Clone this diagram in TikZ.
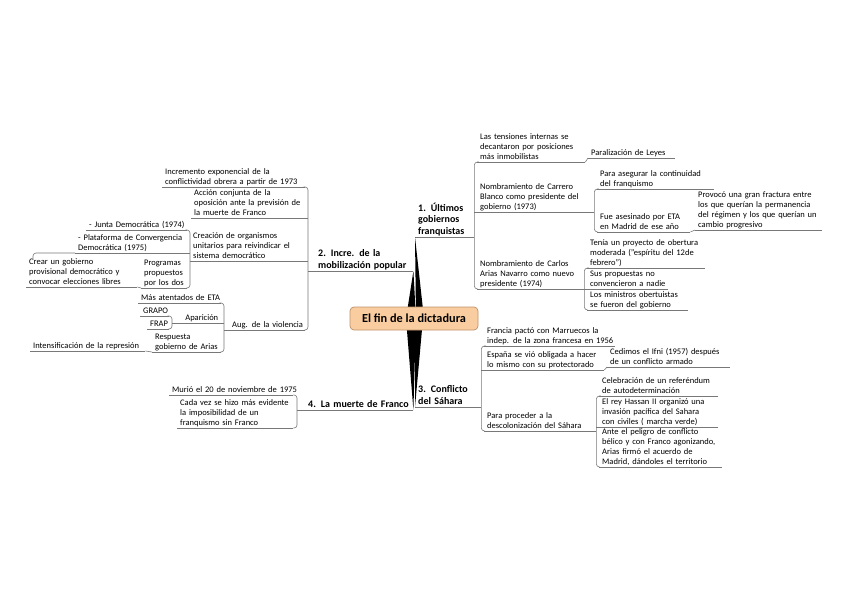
\documentclass[tikz,border=0pt]{standalone}
\usepackage{fontspec}
\setmainfont{Carlito}
\usetikzlibrary{calc}
\newcommand\tpfont{\fontsize{8.5}{10}\selectfont}
\newcommand\mtfont{\fontsize{10}{11.5}\selectfont\bfseries}
\newcommand\ctfont{\fontsize{12.3}{14}\selectfont\bfseries}
\newcommand\tx[1]{\begin{tabular}{@{}l@{}}#1\end{tabular}}
\definecolor{peach}{RGB}{250,205,160}
\definecolor{peachline}{RGB}{190,145,105}
\definecolor{lin}{RGB}{120,120,120}
\tikzset{
  tp/.style={anchor=south west, inner xsep=3pt, inner ysep=-0.7pt, align=left, font=\tpfont, text=black},
  mt/.style={tp, font=\mtfont},
  ul/.style={draw=lin, line width=0.6pt},
  conn/.style={draw=lin, line width=0.6pt, rounded corners=3pt},
  wedge/.style={fill=black, draw=none},
  central/.style={draw=peachline, fill=peach, rounded corners=4pt, line width=0.7pt, minimum width=128pt, minimum height=23pt, inner sep=0pt, font=\ctfont}
}
\begin{document}
\begin{tikzpicture}[x=1pt,y=-1pt]
\useasboundingbox (0,0) rectangle (848,599);

% ---- right upper branch
\node[mt, text width=53pt] (T1) at (415,237) {\tx{1. Últimos\\gobiernos\\franquistas}};
\node[tp, text width=102pt] (A1) at (477,162) {\tx{Las tensiones internas se\\decantaron por posiciones\\más inmobilistas}};
\node[tp, text width=81pt] (A1a) at (588,158) {\tx{Paralización de Leyes}};
\node[tp, text width=111pt] (A2) at (477,212) {\tx{Nombramiento de Carrero\\Blanco como presidente del\\gobierno (1973)}};
\node[tp, text width=111pt] (A2a) at (597,189) {\tx{Para asegurar la continuidad\\del franquismo}};
\node[tp, text width=87pt] (A2b) at (597,232) {\tx{Fue asesinado por ETA\\en Madrid de ese año}};
\node[tp, text width=121pt] (A2b1) at (695,230) {\tx{Provocó una gran fractura entre\\los que querían la permanencia\\del régimen y los que querían un\\cambio progresivo}};
\node[tp, text width=101pt] (A3) at (477,289) {\tx{Nombramiento de Carlos\\Arias Navarro como nuevo\\presidente (1974)}};
\node[tp, text width=112pt] (B1) at (587,268) {\tx{Tenía un proyecto de obertura\\moderada ("espíritu del 12de\\febrero")}};
\node[tp, text width=75pt] (B2) at (587,289) {\tx{Sus propuestas no\\convencieron a nadie}};
\node[tp, text width=95pt] (B3) at (587,310) {\tx{Los ministros obertuistas\\se fueron del gobierno}};

% ---- right lower branch
\node[mt, text width=60pt] (T3) at (415,407) {\tx{3. Conflicto\\del Sáhara}};
\node[tp, text width=125pt] (C1) at (484,346) {\tx{Francia pactó con Marruecos la\\indep. de la zona francesa en 1956}};
\node[tp, text width=114pt] (C2) at (484,370) {\tx{España se vió obligada a hacer\\lo mismo con su protectorado}};
\node[tp, text width=117pt] (C2a) at (607,367) {\tx{Cedimos el Ifni (1957) después\\de un conflicto armado}};
\node[tp, text width=106pt] (C3) at (484,431) {\tx{Para proceder a la\\descolonización del Sáhara}};
\node[tp, text width=113pt] (C3a) at (599,396) {\tx{Celebración de un referéndum\\de autodeterminación}};
\node[tp, text width=113pt] (C3b) at (599,427) {\tx{El rey Hassan II organizó una\\invasión pacífica del Sahara\\con civiles ( marcha verde)}};
\node[tp, text width=117pt] (C3c) at (599,467) {\tx{Ante el peligro de conflicto\\bélico y con Franco agonizando,\\Arias firmó el acuerdo de\\Madrid, dándoles el territorio}};

% ---- left upper branch
\node[mt, text width=99pt] (T2) at (308,271) {\tx{\hspace*{7pt}2. Incre. de la\\\hspace*{7pt}mobilización popular}};
\node[tp, text width=137pt] (D1) at (162,187) {\tx{Incremento exponencial de la\\conflictividad obrera a partir de 1973}};
\node[tp, text width=108pt] (D2) at (191,218) {\tx{Acción conjunta de la\\oposición ante la previsión de\\la muerte de Franco}};
\node[tp, text width=109pt] (D3) at (190,261) {\tx{Creación de organismos\\unitarios para reivindicar el\\sistema democrático}};
\node[tp, text width=95pt] (D3a) at (86,230) {\tx{- Junta Democrática (1974)}};
\node[tp, text width=106pt] (D3b) at (75,253) {\tx{- Plataforma de Convergencia\\Democrática (1975)}};
\node[tp, text width=40pt] (D3c) at (141,288) {\tx{Programas\\propuestos\\por los dos}};
\node[tp, text width=105pt] (D3c1) at (26,287) {\tx{Crear un gobierno\\provisional democrático y\\convocar elecciones libres}};
\node[tp, text width=75pt] (D4) at (224,330) {\tx{\hspace*{5pt}Aug. de la violencia}};
\node[tp, text width=77pt] (E1) at (138,303) {\tx{Más atentados de ETA}};
\node[tp, text width=43pt, align=right] (E2) at (172,323) {\tx{Aparición}};
\node[tp, text width=23pt] (G1) at (140,316) {\tx{GRAPO}};
\node[tp, text width=16pt] (G2) at (147,329) {\tx{FRAP}};
\node[tp, text width=63pt] (E3) at (152,352) {\tx{Respuesta\\gobierno de Arias}};
\node[tp, text width=109pt] (E3a) at (30,351) {\tx{Intensificación de la represión}};

% ---- left lower branch
\node[mt, text width=110pt] (T4) at (297,410) {\tx{\hspace*{8pt}4. La muerte de Franco}};
\node[tp, text width=118pt] (F1) at (169,395) {\tx{Murió el 20 de noviembre de 1975}};
\node[tp, text width=110pt] (F2) at (177,428) {\tx{Cada vez se hizo más evidente\\la imposibilidad de un\\franquismo sin Franco}};

% ---- underlines
\foreach \n in {T1,A1,A1a,A2,A2a,A2b,A2b1,A3,B1,B2,B3,T3,C1,C2,C2a,C3,C3a,C3b,C3c,T2,D1,D2,D3,D3a,D3b,D3c,D3c1,D4,E1,E2,G1,G2,E3,E3a,T4,F1,F2}
  \draw[ul] (\n.south west) -- (\n.south east);

% ---- connectors
\draw[conn] (A1.south west) -| (T1.south east) |- (A3.south west);
\draw[conn] (A2.south west) -- (A2.south west -| T1.south east);
\draw[conn] (A1.south east) -- (A1a.south west);
\draw[conn] (A2a.south west) -| (A2.south east) |- (A2b.south west);
\draw[conn] (A2b.south east) -- (A2b1.south west);
\draw[conn] (B1.south west) -| (A3.south east) |- (B3.south west);
\draw[conn] (B2.south west) -- (A3.south east);

\draw[conn] (C1.south west) -| (T3.south east) |- (C3.south west);
\draw[conn] (C2.south west) -- (C2.south west -| T3.south east);
\draw[conn] (C2.south east) -- (C2a.south west);
\draw[conn] (C3a.south west) -| (C3.south east) |- (C3c.south west);
\draw[conn] (C3b.south west) -- (C3b.south west -| C3.south east);

\draw[conn] (D1.south east) -| (T2.south west) |- (D4.south east);
\draw[conn] (D2.south east) -- (D2.south east -| T2.south west);
\draw[conn] (D3.south east) -- (D3.south east -| T2.south west);
\draw[conn] (D3a.south east) -| (D3.south west) |- (D3c.south east);
\draw[conn] (D3b.south east) -- (D3b.south east -| D3.south west);
\draw[conn] (D3b.south west) -- ++(-42,0) -- ++(0,7);
\draw[conn] (D3c1.south east) -- (D3c.south west);
\draw[conn] (E1.south east) -| (D4.south west) |- (E3.south east);
\draw[conn] (E2.south east) -- (E2.south east -| D4.south west);
\draw[conn] (G1.south east) -| (E2.south west) |- (G2.south east);
\draw[conn] (E3a.south east) -- (E3.south west);

\draw[conn] (F1.south east) -| (T4.south west) |- (F2.south east);

% ---- tapered main connectors
\coordinate (O) at (414,318.5);
\fill[wedge] (T1.south west) -- ($(O)+(2,0)$) -- ($(O)+(10,0)$) -- cycle;
\fill[wedge] (T2.south east) -- ($(O)+(-8,0)$) -- ($(O)+(2,0)$) -- cycle;
\fill[wedge] (T3.south west) -- ($(O)+(1,0)$) -- ($(O)+(9,0)$) -- cycle;
\fill[wedge] (T4.south east) -- ($(O)+(-8,0)$) -- ($(O)+(2,0)$) -- cycle;

\node[central] (C) at (O) {El fin de la dictadura};
\end{tikzpicture}
\end{document}
